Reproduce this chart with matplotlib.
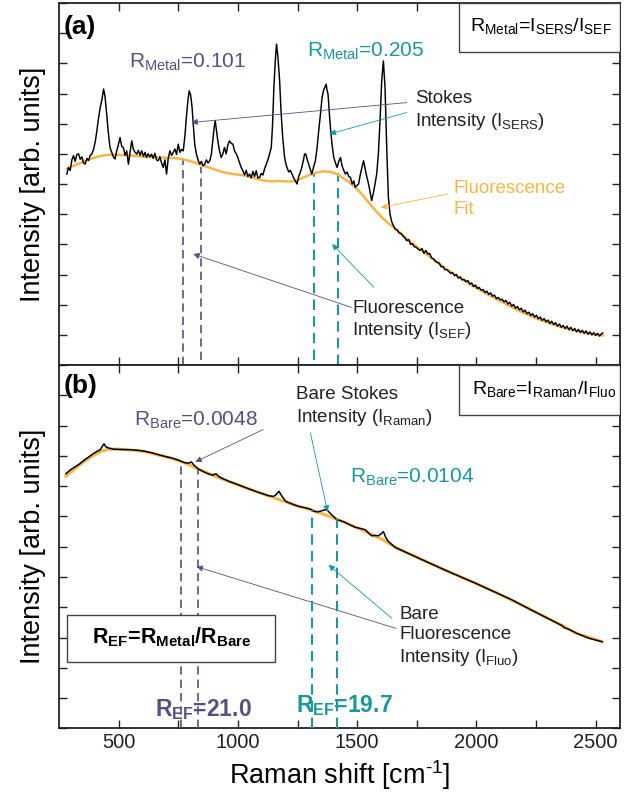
import matplotlib
matplotlib.use("Agg")
import matplotlib.pyplot as plt
from matplotlib.patches import Rectangle

plt.rcParams['font.family'] = ['Liberation Sans', 'DejaVu Sans']
plt.rcParams['mathtext.fontset'] = 'custom'
plt.rcParams['mathtext.rm'] = 'Liberation Sans'
plt.rcParams['mathtext.it'] = 'Liberation Sans:italic'
plt.rcParams['mathtext.bf'] = 'Liberation Sans:bold'
plt.rcParams['mathtext.default'] = 'rm'

PURPLE = '#545184'
TEAL = '#1b989c'
ORANGE = '#f9b545'

# ---- panel (a): SERS spectrum on metal (10 per row) ----
shift_a = [283, 290, 297, 304, 311, 318, 325, 332, 339, 346,
           353, 360, 367, 374, 381, 388, 395, 402, 409, 416,
           423, 430, 437, 443, 450, 457, 464, 471, 478, 485,
           492, 499, 506, 513, 520, 527, 534, 541, 548, 555,
           562, 569, 576, 583, 590, 597, 604, 611, 617, 624,
           631, 638, 645, 652, 659, 666, 673, 680, 687, 694,
           701, 708, 715, 722, 729, 736, 743, 750, 757, 764,
           771, 778, 785, 791, 796, 802, 808, 814, 819, 826,
           833, 840, 847, 854, 861, 868, 875, 882, 889, 896,
           901, 905, 910, 916, 923, 930, 937, 944, 951, 958,
           965, 972, 979, 986, 993, 1000, 1007, 1014, 1021, 1028,
           1035, 1042, 1049, 1056, 1063, 1070, 1077, 1084, 1091, 1098,
           1105, 1112, 1119, 1126, 1133, 1140, 1145, 1151, 1157, 1162,
           1168, 1175, 1181, 1188, 1195, 1200, 1206, 1213, 1220, 1227,
           1234, 1241, 1248, 1255, 1262, 1268, 1275, 1280, 1285, 1291,
           1297, 1303, 1310, 1317, 1325, 1332, 1339, 1346, 1353, 1359,
           1364, 1370, 1374, 1378, 1383, 1388, 1395, 1402, 1409, 1416,
           1423, 1430, 1437, 1444, 1451, 1458, 1465, 1472, 1479, 1486,
           1492, 1499, 1506, 1513, 1520, 1527, 1534, 1541, 1548, 1555,
           1561, 1568, 1575, 1582, 1589, 1596, 1603, 1610, 1617, 1624,
           1631, 1638, 1645, 1652, 1660, 1668, 1676, 1684, 1692, 1700,
           1708, 1716, 1724, 1732, 1740, 1748, 1756, 1764, 1772, 1780,
           1788, 1796, 1804, 1812, 1820, 1828, 1836, 1844, 1852, 1860,
           1868, 1876, 1884, 1892, 1900, 1908, 1916, 1924, 1932, 1940,
           1948, 1956, 1964, 1972, 1980, 1988, 1996, 2004, 2012, 2020,
           2028, 2036, 2044, 2052, 2060, 2068, 2076, 2084, 2092, 2100,
           2108, 2116, 2124, 2132, 2140, 2148, 2156, 2164, 2172, 2180,
           2188, 2196, 2204, 2212, 2220, 2228, 2236, 2244, 2252, 2260,
           2268, 2276, 2284, 2292, 2300, 2308, 2316, 2324, 2332, 2340,
           2348, 2356, 2364, 2372, 2380, 2388, 2396, 2404, 2412, 2420,
           2428, 2436, 2444, 2452, 2460, 2468, 2476, 2484, 2492, 2500,
           2508, 2516, 2524, 2530]
counts_a = [6.33, 6.55, 6.45, 6.80, 6.94, 6.75, 6.98, 7.00, 6.82, 6.90,
            6.70, 6.66, 6.85, 6.78, 6.95, 7.00, 7.15, 7.40, 7.77, 8.20,
            8.54, 8.80, 9.15, 8.90, 8.32, 7.70, 7.21, 7.05, 6.90, 6.83,
            7.10, 7.30, 7.54, 7.25, 7.21, 6.95, 7.10, 6.66, 7.05, 7.43,
            7.15, 7.05, 6.99, 7.12, 6.95, 7.10, 6.92, 7.05, 6.88, 7.00,
            6.90, 6.99, 6.85, 7.02, 6.80, 6.77, 6.90, 6.70, 6.55, 6.80,
            6.33, 6.85, 7.10, 6.95, 7.05, 7.16, 6.98, 7.32, 7.05, 7.15,
            7.10, 7.60, 8.30, 8.80, 9.09, 8.95, 8.54, 7.90, 7.32, 7.00,
            6.80, 6.66, 6.75, 6.60, 6.66, 6.80, 6.70, 6.77, 7.00, 7.54,
            7.90, 8.10, 7.80, 7.43, 7.10, 6.88, 7.00, 7.21, 7.00, 7.30,
            7.43, 7.35, 7.32, 7.10, 7.00, 6.88, 6.70, 6.55, 6.44, 6.30,
            6.45, 6.25, 6.33, 6.20, 6.42, 6.25, 6.44, 6.20, 6.22, 6.35,
            6.30, 6.50, 6.66, 6.80, 7.00, 7.21, 7.90, 9.20, 10.10, 10.64,
            10.20, 9.43, 8.40, 7.54, 6.95, 6.70, 6.55, 6.40, 6.45, 6.33,
            6.20, 6.10, 6.00, 6.25, 6.40, 6.55, 6.80, 7.00, 6.99, 6.80,
            6.66, 6.50, 6.33, 6.55, 6.77, 7.20, 7.77, 8.30, 8.87, 9.10,
            9.20, 9.31, 9.10, 8.98, 8.40, 7.88, 7.30, 6.88, 6.70, 6.55,
            6.75, 6.88, 6.60, 6.45, 6.33, 6.40, 6.25, 6.22, 6.00, 6.10,
            5.89, 5.95, 6.00, 6.30, 6.55, 6.77, 6.50, 6.22, 6.00, 5.70,
            5.45, 5.70, 6.00, 6.33, 7.00, 8.10, 9.42, 10.08, 9.20, 7.21,
            5.56, 5.00, 4.75, 4.62, 4.50, 4.47, 4.38, 4.36, 4.28, 4.22,
            4.12, 4.16, 4.00, 4.02, 3.92, 3.90, 3.84, 3.80, 3.86, 3.70,
            3.80, 3.68, 3.70, 3.55, 3.52, 3.44, 3.40, 3.38, 3.26, 3.26,
            3.16, 3.16, 3.10, 3.04, 3.06, 2.96, 3.00, 2.88, 2.92, 2.82,
            2.84, 2.76, 2.80, 2.68, 2.72, 2.60, 2.65, 2.54, 2.57, 2.48,
            2.50, 2.40, 2.45, 2.34, 2.39, 2.28, 2.32, 2.20, 2.24, 2.16,
            2.18, 2.09, 2.14, 2.02, 2.08, 1.95, 2.01, 1.88, 1.94, 1.83,
            1.88, 1.76, 1.82, 1.70, 1.75, 1.64, 1.70, 1.59, 1.65, 1.53,
            1.59, 1.48, 1.54, 1.43, 1.49, 1.38, 1.45, 1.34, 1.40, 1.29,
            1.36, 1.25, 1.31, 1.21, 1.29, 1.17, 1.25, 1.14, 1.21, 1.10,
            1.18, 1.08, 1.15, 1.05, 1.13, 1.02, 1.10, 1.00, 1.07, 0.98,
            1.05, 0.96, 1.03, 1.06]

fit_shift_a = [283, 310, 340, 370, 400, 430, 464, 500, 540, 597, 650, 700, 736, 770, 800, 833, 870,
               910, 944, 980, 1014, 1046, 1080, 1110, 1140, 1170, 1200, 1220, 1245, 1270, 1300, 1330,
               1360, 1390, 1415, 1436, 1465, 1492, 1520, 1547, 1575, 1603, 1630, 1660, 1700, 1750,
               1800, 1850, 1900, 1950, 2000, 2050, 2100, 2150, 2200, 2250, 2300, 2350, 2400, 2450,
               2500, 2530]
fit_a = [6.50, 6.60, 6.70, 6.80, 6.88, 6.94, 6.97, 6.97, 6.95, 6.91, 6.89, 6.87, 6.86, 6.82, 6.76,
         6.67, 6.57, 6.46, 6.38, 6.33, 6.30, 6.25, 6.17, 6.11, 6.09, 6.10, 6.09, 6.08, 6.11, 6.20,
         6.30, 6.38, 6.42, 6.40, 6.33, 6.22, 6.07, 5.89, 5.66, 5.40, 5.14, 4.90, 4.70, 4.53, 4.24,
         3.92, 3.62, 3.32, 3.05, 2.80, 2.56, 2.33, 2.12, 1.91, 1.72, 1.55, 1.40, 1.27, 1.16, 1.07,
         1.00, 0.98]

# ---- panel (b): bare substrate spectrum ----
shift_b = [279, 300, 332, 360, 388, 410, 423, 432, 439, 446,
           457, 478, 510, 555, 585, 610, 640, 666, 695, 722,
           750, 777, 795, 805, 815, 833, 855, 875, 895, 903,
           910, 918, 930, 965, 1000, 1042, 1084, 1130, 1150, 1160,
           1172, 1182, 1200, 1230, 1255, 1285, 1304, 1318, 1335, 1350,
           1365, 1373, 1385, 1394, 1415, 1430, 1450, 1470, 1492, 1515,
           1534, 1548, 1561, 1575, 1589, 1600, 1610, 1620, 1631, 1659,
           1700, 1750, 1800, 1882, 1950, 2000, 2058, 2100, 2150, 2230,
           2300, 2350, 2362, 2368, 2378, 2390, 2420, 2470, 2527]
counts_b = [8.41, 8.55, 8.71, 8.88, 9.04, 9.15, 9.20, 9.32, 9.40, 9.30,
            9.26, 9.22, 9.21, 9.20, 9.18, 9.15, 9.10, 9.04, 8.98, 8.93,
            8.86, 8.77, 8.76, 8.80, 8.70, 8.57, 8.48, 8.41, 8.36, 8.40,
            8.40, 8.33, 8.27, 8.15, 8.05, 7.92, 7.80, 7.68, 7.66, 7.72,
            7.83, 7.70, 7.50, 7.40, 7.33, 7.28, 7.24, 7.17, 7.15, 7.18,
            7.22, 7.22, 7.12, 7.05, 6.89, 6.86, 6.80, 6.72, 6.64, 6.60,
            6.56, 6.45, 6.36, 6.37, 6.36, 6.42, 6.50, 6.30, 6.17, 5.98,
            5.83, 5.65, 5.47, 5.18, 4.95, 4.78, 4.57, 4.42, 4.24, 3.91,
            3.63, 3.43, 3.38, 3.32, 3.30, 3.26, 3.14, 2.98, 2.86]

fit_shift_b = [279, 320, 360, 400, 430, 460, 500, 555, 610, 666, 722, 777, 833, 875, 930, 1000, 1084,
               1150, 1200, 1255, 1304, 1350, 1400, 1450, 1492, 1534, 1575, 1610, 1640, 1659, 1750,
               1882, 2000, 2100, 2230, 2350, 2420, 2527]
fit_b = [8.33, 8.60, 8.84, 9.04, 9.16, 9.22, 9.22, 9.19, 9.14, 9.03, 8.92, 8.77, 8.57, 8.42, 8.25,
         8.04, 7.80, 7.62, 7.48, 7.33, 7.22, 7.10, 6.95, 6.80, 6.65, 6.50, 6.35, 6.22, 6.08, 5.98,
         5.65, 5.18, 4.78, 4.42, 3.91, 3.43, 3.14, 2.86]

# dashed integration limits: x, top, bottom
dash_x_a = [772, 846, 1318, 1420]
dash_top_a = [6.83, 6.55, 6.33, 6.38]
dash_bot_a = [0.0, 0.15, 0.15, 0.0]
dash_x_b = [762, 834, 1311, 1416]
dash_top_b = [8.77, 8.54, 7.22, 6.91]
dash_bot_b = [0.0, 0.0, 0.0, 0.0]
dash_col = [PURPLE, PURPLE, TEAL, TEAL]

fig = plt.figure(figsize=(6.39, 7.98), dpi=100)
ax_a = fig.add_axes([0.0923, 0.5426, 0.8772, 0.4536])
ax_b = fig.add_axes([0.0923, 0.0873, 0.8772, 0.4553])

for ax in (ax_a, ax_b):
    ax.set_xlim(250, 2600)
    ax.set_ylim(0, 12)
    ax.set_xticks([500, 1000, 1500, 2000, 2500])
    ax.set_xticks([750, 1250, 1750, 2250], minor=True)
    ax.set_yticks(range(0, 13))
    ax.set_yticklabels([])
    ax.tick_params(which='both', direction='in', top=True, right=True,
                   length=6, width=1.0, labelsize=14.5, colors='#222222')
    for s in ax.spines.values():
        s.set_linewidth(1.3)
        s.set_color('#222222')
    ax.set_ylabel('Intensity [arb. units]', fontsize=19.5, labelpad=6)
ax_a.set_xticklabels([])
ax_b.set_xlabel('Raman shift [cm$^{\u2010 1}$]', fontsize=19.5, labelpad=4)

# ===== (a) =====
ax_a.plot(fit_shift_a, fit_a, color=ORANGE, lw=1.8, zorder=2)
ax_a.plot(shift_a, counts_a, color='black', lw=1.05, zorder=3)
for x, t, b, c in zip(dash_x_a, dash_top_a, dash_bot_a, dash_col):
    ax_a.plot([x, x], [b, t], color=c, lw=1.2 if c == PURPLE else 1.5,
              dashes=(5, 3), zorder=1)

ax_a.add_patch(Rectangle((1928, 10.38), 672, 1.62, facecolor='white',
                         edgecolor='#444444', lw=1.0, zorder=4))
ax_a.text(1973, 11.08, 'R$_{Metal}$=I$_{SERS}$/I$_{SEF}$', fontsize=14, zorder=5)
ax_a.text(268, 11.2, '(a)', fontsize=19, fontweight='bold', va='center')
ax_a.text(545, 9.86, 'R$_{Metal}$=0.101', fontsize=15, color=PURPLE)
ax_a.text(1290, 10.22, 'R$_{Metal}$=0.205', fontsize=15, color=TEAL)
# multi-line labels: y is the baseline of the last line
ax_a.text(1741, 7.93, 'Stokes\nIntensity (I$_{SERS}$)', fontsize=13.5,
          color='#222222', linespacing=1.25)
ax_a.text(1903, 5.02, 'Fluorescence\nFit', fontsize=13.5, color=ORANGE, linespacing=1.25)
ax_a.text(1479, 0.98, 'Fluorescence\nIntensity (I$_{SEF}$)', fontsize=13.5,
          color='#222222', linespacing=1.25)

arrows_a = [((805, 8.04), (1708, 8.70), PURPLE),
            ((1385, 7.66), (1708, 8.37), TEAL),
            ((1600, 5.22), (1880, 5.67), ORANGE),
            ((813, 3.68), (1476, 1.91), PURPLE),
            ((1395, 4.01), (1570, 2.58), TEAL)]
for head, tail, c in arrows_a:
    ax_a.annotate('', xy=head, xytext=tail,
                  arrowprops=dict(arrowstyle='-|>', color=c, lw=0.6,
                                  mutation_scale=9, shrinkA=0, shrinkB=0))

# ===== (b) =====
ax_b.plot(fit_shift_b, fit_b, color=ORANGE, lw=2.2, zorder=2)
ax_b.plot(shift_b, counts_b, color='black', lw=1.1, zorder=3)
for x, t, b, c in zip(dash_x_b, dash_top_b, dash_bot_b, dash_col):
    ax_b.plot([x, x], [b, t], color=c, lw=1.2 if c == PURPLE else 1.5,
              dashes=(5, 3), zorder=6)

ax_b.add_patch(Rectangle((1928, 10.36), 672, 1.64, facecolor='white',
                         edgecolor='#444444', lw=1.0, zorder=4))
ax_b.text(1983, 11.03, 'R$_{Bare}$=I$_{Raman}$/I$_{Fluo}$', fontsize=14, zorder=5)
ax_b.text(268, 11.3, '(b)', fontsize=19, fontweight='bold', va='center')
ax_b.text(1245, 10.12, 'Bare Stokes\nIntensity (I$_{Raman}$)', fontsize=13.5,
          color='#222222', linespacing=1.25)
ax_b.text(563, 9.98, 'R$_{Bare}$=0.0048', fontsize=15, color=PURPLE)
ax_b.text(1469, 8.12, 'R$_{Bare}$=0.0104', fontsize=15, color=TEAL)
ax_b.text(1677, 2.20, 'Bare\nFluorescence\nIntensity (I$_{Fluo}$)', fontsize=13.5,
          color='#222222', linespacing=1.25)

ax_b.add_patch(Rectangle((282, 2.18), 874, 1.56, facecolor='white',
                         edgecolor='#444444', lw=1.0, zorder=7))
ax_b.text(724, 2.80, r'R$_{\mathbf{EF}}$=R$_{\mathbf{Metal}}$/R$_{\mathbf{Bare}}$',
          fontsize=15.5, fontweight='bold', ha='center', zorder=8)
ax_b.text(654, 0.40, r'R$_{\mathbf{EF}}$=21.0', fontsize=16.5, fontweight='bold', color=PURPLE, zorder=5)
ax_b.text(1245, 0.54, r'R$_{\mathbf{EF}}$=19.7', fontsize=16.5, fontweight='bold', color=TEAL, zorder=5)

arrows_b = [((822, 8.80), (1106, 9.87), PURPLE),
            ((1376, 7.16), (1304, 9.76), TEAL),
            ((827, 5.34), (1663, 3.30), PURPLE),
            ((1380, 5.40), (1646, 3.63), TEAL)]
for head, tail, c in arrows_b:
    ax_b.annotate('', xy=head, xytext=tail,
                  arrowprops=dict(arrowstyle='-|>', color=c, lw=0.6,
                                  mutation_scale=9, shrinkA=0, shrinkB=0))

fig.savefig('out.png', dpi=100)
